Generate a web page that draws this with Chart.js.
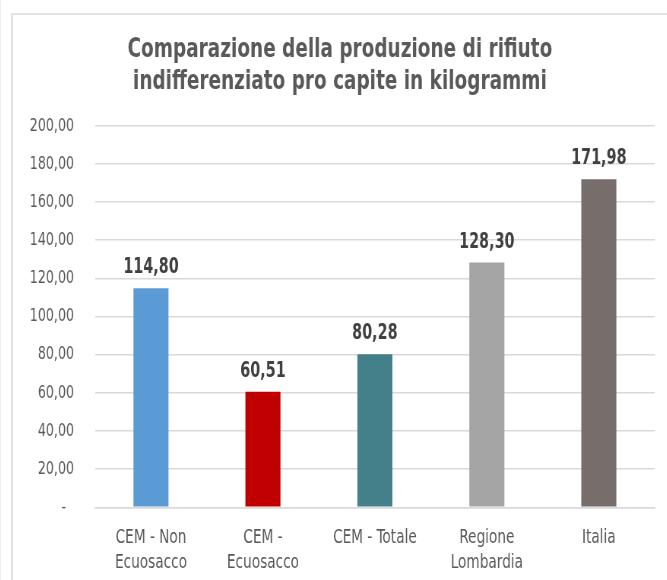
<!DOCTYPE html>
<html>
<head>
<meta charset="utf-8">
<script src="https://cdn.jsdelivr.net/npm/chart.js@4/dist/chart.umd.min.js"></script>
<style>
  html, body { margin: 0; padding: 0; background: #fff; }
  body { width: 667px; height: 580px; position: relative; overflow: hidden; border-left: 1px solid #eee; box-sizing: border-box; }
  #frame { position: absolute; left: 10px; top: 13px; width: 700px; height: 620px; border: 2px solid #e3e3e3; box-sizing: border-box; }
  /* il font originale è condensato: si disegna più largo e si comprime in orizzontale */
  #wrap { position: absolute; left: 0; top: 0; width: 878px; height: 580px; transform: scaleX(0.76); transform-origin: 0 0; }
</style>
</head>
<body>
<div id="frame"></div>
<div id="wrap"><canvas id="chart"></canvas></div>
<script>
// dati
const categories = [['CEM - Non', 'Ecuosacco'], ['CEM -', 'Ecuosacco'], 'CEM - Totale', ['Regione', 'Lombardia'], 'Italia'];
const kgProCapite = [114.80, 60.51, 80.28, 128.30, 171.98];
const barColors = ['#5b9bd5', '#c00000', '#44808a', '#a5a5a5', '#776d6b'];
const yTickLabels = ['-  ', '20,00', '40,00', '60,00', '80,00', '100,00', '120,00', '140,00', '160,00', '180,00', '200,00'];
const titleLines = ['Comparazione della produzione di rifiuto', 'indifferenziato pro capite in kilogrammi'];

const SX = 0.76; // compressione orizzontale
const FONT = '"DejaVu Sans Condensed", "DejaVu Sans", sans-serif';
const fmt = v => v.toFixed(2).replace('.', ',');
const px = v => v / SX; // da pixel a schermo a pixel interni

// etichette dati sopra le barre
const valueLabels = {
    id: 'valueLabels',
    afterDatasetsDraw(chart) {
        const ctx = chart.ctx;
        const meta = chart.getDatasetMeta(0);
        ctx.save();
        ctx.font = 'bold 21px ' + FONT;
        ctx.fillStyle = '#404040';
        ctx.textAlign = 'center';
        ctx.textBaseline = 'alphabetic';
        meta.data.forEach((bar, i) => {
            ctx.fillText(fmt(kgProCapite[i]), bar.x, bar.y - 15);
        });
        ctx.restore();
    }
};

new Chart(document.getElementById('chart'), {
    type: 'bar',
    data: {
        labels: categories,
        datasets: [{
            data: kgProCapite,
            backgroundColor: barColors,
            barPercentage: 0.313,
            categoryPercentage: 1
        }]
    },
    options: {
        responsive: true,
        maintainAspectRatio: false,
        animation: false,
        layout: { padding: { left: px(24), right: px(13.5), top: 0, bottom: 0 } },
        plugins: {
            legend: { display: false },
            tooltip: { enabled: false },
            title: {
                display: true,
                text: titleLines,
                color: '#595959',
                font: { family: FONT, size: 27, weight: 'bold', lineHeight: 1.2 },
                padding: { top: 33.5, bottom: 27.4 }
            }
        },
        scales: {
            x: {
                grid: { display: false },
                border: { display: true, color: '#d9d9d9', width: 1.5 },
                ticks: {
                    color: '#595959',
                    font: { family: FONT, size: 20, lineHeight: 1.25 },
                    padding: 10,
                    maxRotation: 0,
                    autoSkip: false
                },
                afterFit(scale) { scale.height = 72.7; }
            },
            y: {
                min: 0,
                max: 200,
                grid: { color: '#d9d9d9', lineWidth: 1.5, drawTicks: false },
                border: { display: false },
                ticks: {
                    stepSize: 20,
                    color: '#595959',
                    font: { family: FONT, size: 18.5 },
                    padding: px(21),
                    callback: (v, i) => yTickLabels[i]
                },
                afterFit(scale) { scale.width = px(70); }
            }
        }
    },
    plugins: [valueLabels]
});
</script>
</body>
</html>
